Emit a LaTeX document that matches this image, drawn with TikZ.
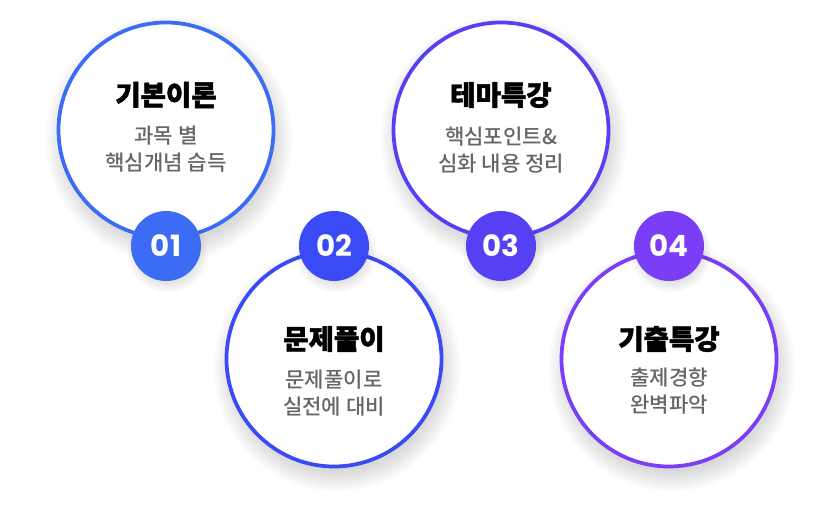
\documentclass[tikz,border=0pt]{standalone}
\usepackage{fontspec}
\newfontfamily\krblack{Noto Sans CJK KR Black}[FakeBold=1.6]
\newfontfamily\krmed{Noto Sans CJK KR Medium}
\newfontfamily\numfont{Poppins}[BoldFont={Poppins Bold}]

\definecolor{ringA}{HTML}{3D6CF4}
\definecolor{ringB}{HTML}{3A4AF5}
\definecolor{ringC}{HTML}{5640F3}
\definecolor{ringD}{HTML}{793EF6}
\definecolor{subgrey}{HTML}{666666}

\tikzset{
  bigcircle/.style={circle, draw=#1, line width=3.2pt, fill=white, minimum size=6.45cm, inner sep=0pt},
  badge/.style={circle, fill=#1, minimum size=2.1cm, inner sep=0pt, text=white, font=\numfont\bfseries\fontsize{25}{25}\selectfont},
  title/.style={font=\krblack\fontsize{23.5}{26}\selectfont, text=black},
  sub/.style={font=\krmed\fontsize{18}{23}\selectfont, text=subgrey, align=center},
  softshadow/.style={fill=black, opacity=0.014}
}

\begin{document}
\begin{tikzpicture}[x=0.03cm, y=-0.03cm]
\useasboundingbox (0,0) rectangle (834,514);

% centres of the four circles and the number badges
\coordinate (p1) at (166,130);
\coordinate (p2) at (334,359);
\coordinate (p3) at (501,130);
\coordinate (p4) at (669,359);
\coordinate (q1) at (166,246);
\coordinate (q2) at (334,246);
\coordinate (q3) at (501,246);
\coordinate (q4) at (669,246);

% soft shadows
\foreach \p in {p1,p2,p3,p4}
  \foreach \i in {1,...,12}
    \fill[softshadow] ([shift={(3,9)}]\p) circle (96+\i*2.3);

% big circles
\node[bigcircle=ringA] (c1) at (p1) {};
\node[bigcircle=ringB] (c2) at (p2) {};
\node[bigcircle=ringC] (c3) at (p3) {};
\node[bigcircle=ringD] (c4) at (p4) {};

% shadows of the badges
\foreach \q in {q1,q2,q3,q4}
  \foreach \i in {1,...,8}
    \fill[softshadow] ([shift={(2,6)}]\q) circle (28+\i*1.6);

% number badges
\node[badge=ringA] (n1) at (q1) {01};
\node[badge=ringB] (n2) at (q2) {02};
\node[badge=ringC] (n3) at (q3) {03};
\node[badge=ringD] (n4) at (q4) {04};

% texts
\node[title] (t1) at (166,95) {기본이론};
\node[sub] (s1) at (166,149) {과목 별\\핵심개념 습득};
\node[title] (t2) at (334,339) {문제풀이};
\node[sub] (s2) at (334,393) {문제풀이로\\실전에 대비};
\node[title] (t3) at (501,95) {테마특강};
\node[sub] (s3) at (501,150) {핵심포인트\&\\심화 내용 정리};
\node[title] (t4) at (669,339) {기출특강};
\node[sub] (s4) at (669,391) {출제경향\\완벽파악};

\end{tikzpicture}
\end{document}
